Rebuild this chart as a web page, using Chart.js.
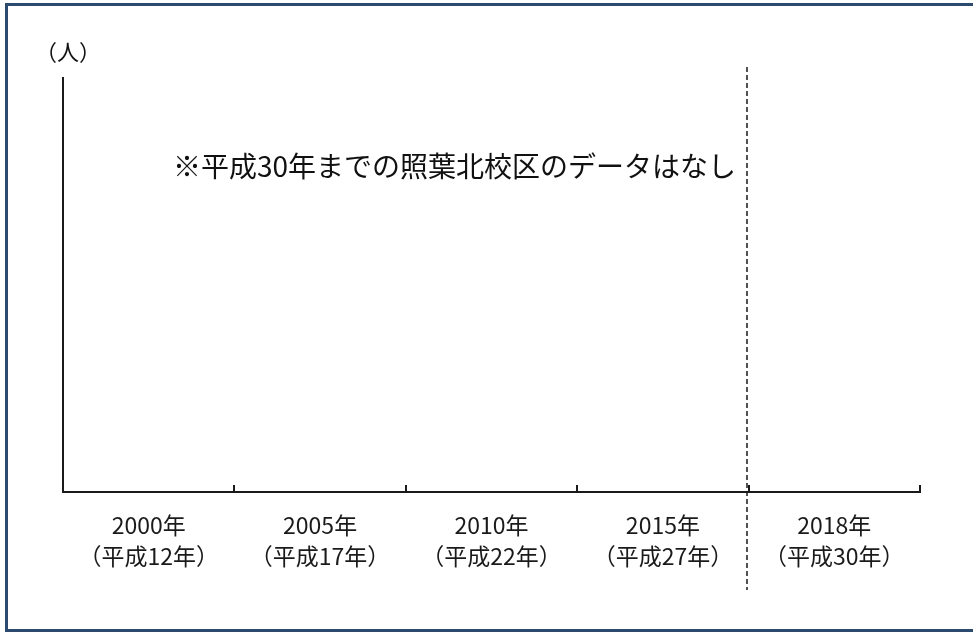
<!DOCTYPE html>
<html lang="ja">
<head>
<meta charset="utf-8">
<script src="https://cdn.jsdelivr.net/npm/chart.js@4"></script>
<style>
  html, body { margin: 0; padding: 0; background: #fff; overflow: hidden; }
  #wrap { position: absolute; left: 0; top: 0; width: 973px; height: 632px; }
</style>
</head>
<body>
<div id="wrap"><canvas id="chart"></canvas></div>
<script>
// 年（和暦付き）のカテゴリ
const categories = [
  ["2000年", "（平成12年）"],
  ["2005年", "（平成17年）"],
  ["2010年", "（平成22年）"],
  ["2015年", "（平成27年）"],
  ["2018年", "（平成30年）"],
];
// 照葉北校区の人数（データなし）
const values = [null, null, null, null, null];
const unitLabel = "（人）";
const noteText = "※平成30年までの照葉北校区のデータはなし";
const dividerIndex = 3; // 2015年と2018年の間に点線

const fontJP = "'Noto Sans CJK JP', 'Noto Sans', sans-serif";

// 枠・目盛り・点線・注記を描くプラグイン
const decorations = {
  id: "decorations",
  beforeDraw(chart) {
    const ctx = chart.ctx;
    // 外枠（右側は切れている）
    ctx.save();
    ctx.strokeStyle = "#2c4a6e";
    ctx.lineWidth = 3;
    ctx.beginPath();
    ctx.moveTo(chart.width + 5, 4.5);
    ctx.lineTo(6.5, 4.5);
    ctx.lineTo(6.5, 630.5);
    ctx.lineTo(chart.width + 5, 630.5);
    ctx.stroke();
    ctx.restore();
  },
  afterDraw(chart) {
    const ctx = chart.ctx;
    const x = chart.scales.x;
    const area = chart.chartArea;
    const half = (x.getPixelForValue(1) - x.getPixelForValue(0)) / 2;

    // 上向きの目盛り
    ctx.save();
    ctx.strokeStyle = "#1a1a1a";
    ctx.lineWidth = 2;
    for (let i = 0; i < categories.length; i++) {
      const px = Math.round(x.getPixelForValue(i) + half);
      ctx.beginPath();
      ctx.moveTo(px, area.bottom);
      ctx.lineTo(px, area.bottom - 7);
      ctx.stroke();
    }

    // 区切りの点線
    const dx = Math.round(x.getPixelForValue(dividerIndex) + half) - 2;
    ctx.setLineDash([5, 3]);
    ctx.lineWidth = 1.5;
    ctx.beginPath();
    ctx.moveTo(dx, 67);
    ctx.lineTo(dx, 590);
    ctx.stroke();
    ctx.setLineDash([]);

    // 単位と注記
    ctx.fillStyle = "#111";
    ctx.textBaseline = "middle";
    ctx.font = "22px " + fontJP;
    ctx.fillText(unitLabel, 35, 52);
    ctx.font = "28px " + fontJP;
    ctx.fillText(noteText, 173, 166);
    ctx.restore();
  },
};

new Chart(document.getElementById("chart"), {
  type: "bar",
  data: {
    labels: categories,
    datasets: [{ data: values, backgroundColor: "#4472c4" }],
  },
  plugins: [decorations],
  options: {
    responsive: true,
    maintainAspectRatio: false,
    animation: false,
    layout: { padding: { left: 63, right: 53, top: 78, bottom: 40 } },
    plugins: { legend: { display: false }, tooltip: { enabled: false } },
    scales: {
      x: {
        afterFit: (s) => { s.height = 100; },
        grid: { display: false, drawTicks: false },
        border: { display: true, color: "#1a1a1a", width: 2 },
        ticks: {
          color: "#1a1a1a",
          padding: 18,
          maxRotation: 0,
          autoSkip: false,
          font: { family: fontJP, size: 23, lineHeight: 1.35 },
        },
      },
      y: {
        min: 0,
        max: 1,
        afterFit: (s) => { s.width = 0; },
        grid: { display: false, drawTicks: false },
        border: { display: true, color: "#1a1a1a", width: 2 },
        ticks: { display: false },
      },
    },
  },
});
</script>
</body>
</html>
